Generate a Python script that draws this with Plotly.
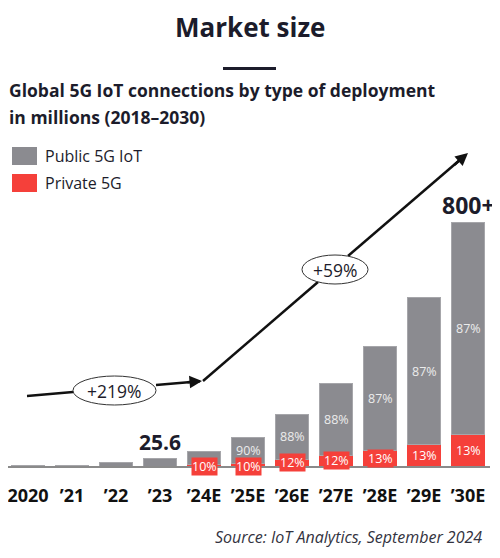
import plotly.graph_objects as go

# ---- data ----
years = ["2020", "’21", "’22", "’23", "’24E", "’25E", "’26E", "’27E", "’28E", "’29E", "’30E"]
public_5g = [1, 3, 11, 25.6, 44, 85, 151, 240, 341, 481, 696]
private_5g = [0, 0, 0, 0, 5, 9.5, 20, 33, 51, 72, 104]
public_pct = ["", "", "", "", "", "90%", "88%", "88%", "87%", "87%", "87%"]
private_pct = ["", "", "", "", "10%", "10%", "12%", "12%", "13%", "13%", "13%"]

GRAY = "#8b8b90"
RED = "#f5403a"
DARK = "#1c1c2b"
FONT = "Open Sans"

# page shows the figure offset by the body margin (8px)
OFF = 8
W, H = 500 - OFF, 558 - OFF
ML, MR, MT, MB = 0, 10, 0, 92
PW, PH = W - ML - MR, H - MT - MB
SCALE = 0.304  # px per million
CAT_PX = 44.0


def px(x):
    return (x - OFF - ML) / PW


def py(y):
    return (H - MB - (y - OFF)) / PH


def note(x, y, text, size, color=DARK, xa="center", ya="middle", weight="normal", **kw):
    return dict(xref="paper", yref="paper", x=px(x), y=py(y), text=text, showarrow=False,
                xanchor=xa, yanchor=ya,
                font=dict(family=FONT, size=size, color=color, weight=weight), **kw)


fig = go.Figure()
fig.add_trace(go.Bar(x=years, y=private_5g, name="Private 5G", marker_color=RED,
                     marker_line_width=0, showlegend=False))
fig.add_trace(go.Bar(x=years, y=public_5g, name="Public 5G IoT", marker_color=GRAY,
                     marker_line=dict(width=1, color="#a6a6aa"), showlegend=False))

annotations = []
shapes = []

# percentage labels inside bars
for yr, pub, pri, tp, tr in zip(years, public_5g, private_5g, public_pct, private_pct):
    if tp:
        annotations.append(dict(x=yr, y=pri + pub / 2, text=tp, showarrow=False,
                                xanchor="center", yanchor="middle",
                                font=dict(family=FONT, size=12.5, color="#ececec")))
    if tr:
        annotations.append(dict(x=yr, y=(pri / 2 if pri >= 15 else 0), text=tr,
                                showarrow=False, xanchor="center", yanchor="middle",
                                bgcolor=RED, borderpad=0,
                                font=dict(family=FONT, size=12.5, color="#ffffff")))

# value labels
annotations.append(dict(x=years[3], y=public_5g[3] + private_5g[3], text="25.6",
                        showarrow=False, xanchor="center", yanchor="bottom", yshift=0,
                        font=dict(family=FONT, size=21, color=DARK, weight="bold")))
annotations.append(dict(x=years[10], y=public_5g[10] + private_5g[10], text="800+",
                        showarrow=False, xanchor="center", yanchor="bottom", yshift=0,
                        font=dict(family=FONT, size=23, color=DARK, weight="bold")))

# growth arrows (segments stop at the ellipse edges)
LN = dict(color="#111", width=2.5)
for (x0, y0, x1, y1) in [(27, 396, 73, 392.1), (156, 385, 200, 381.2),
                         (203, 381, 318, 282), (348, 256, 465, 155.5)]:
    shapes.append(dict(type="line", xref="paper", yref="paper", x0=px(x0), y0=py(y0),
                       x1=px(x1), y1=py(y1), line=LN))
shapes.append(dict(type="circle", xref="paper", yref="paper", x0=px(73), x1=px(156),
                   y0=py(405), y1=py(376), fillcolor="white", line=dict(color="#333", width=1)))
shapes.append(dict(type="circle", xref="paper", yref="paper", x0=px(302), x1=px(368),
                   y0=py(284), y1=py(255), fillcolor="white", line=dict(color="#333", width=1)))
annotations.append(dict(xref="paper", yref="paper", x=px(202), y=py(381), ax=-16, ay=1.4,
                        text="", showarrow=True, arrowhead=2, arrowsize=1, arrowwidth=2.5,
                        arrowcolor="#111"))
annotations.append(dict(xref="paper", yref="paper", x=px(468), y=py(153), ax=-15, ay=13,
                        text="", showarrow=True, arrowhead=2, arrowsize=1, arrowwidth=2.5,
                        arrowcolor="#111"))
annotations.append(note(114.5, 390.5, "+219%", 17.5))
annotations.append(note(335, 269.5, "+59%", 17.5))

# title / subtitle
annotations.append(note(250, OFF, "Market size", 26, ya="top", weight="bold", borderpad=0))
shapes.append(dict(type="line", xref="paper", yref="paper", x0=px(223), x1=px(276),
                   y0=py(68.5), y1=py(68.5), line=dict(color=DARK, width=3)))
annotations.append(note(OFF, 90, "Global 5G IoT connections by type of deployment", 17.5,
                        xa="left", weight="bold", borderpad=0))
annotations.append(note(OFF, 117, "in millions (2018–2030)", 17.5, xa="left", weight="bold",
                        borderpad=0))

# legend
shapes.append(dict(type="rect", xref="paper", yref="paper", x0=px(12), x1=px(37),
                   y0=py(165), y1=py(147), fillcolor=GRAY, line=dict(width=0)))
shapes.append(dict(type="rect", xref="paper", yref="paper", x0=px(12), x1=px(37),
                   y0=py(192), y1=py(174), fillcolor=RED, line=dict(width=0)))
annotations.append(note(43, 156, "Public 5G IoT", 16, xa="left"))
annotations.append(note(43, 183, "Private 5G", 16, xa="left"))

# source
annotations.append(note(484, 537, "<i>Source: IoT Analytics, September 2024</i>", 16,
                        color="#333340", xa="right"))

fig.update_layout(
    width=W, height=H,
    margin=dict(l=ML, r=MR, t=MT, b=MB),
    barmode="stack", bargap=0.23,
    plot_bgcolor="white", paper_bgcolor="white",
    showlegend=False,
    annotations=annotations, shapes=shapes,
    xaxis=dict(type="category", range=[10.5 - PW / CAT_PX, 10.5], showline=True,
               linecolor="#8a8a8a", linewidth=2, ticks="outside", ticklen=12,
               tickcolor="rgba(0,0,0,0)",
               tickfont=dict(family=FONT, size=18, color="#111", weight="bold"),
               showgrid=False, zeroline=False),
    yaxis=dict(range=[0, PH / SCALE], visible=False, showgrid=False, zeroline=False),
)

fig.write_html("out.html")
